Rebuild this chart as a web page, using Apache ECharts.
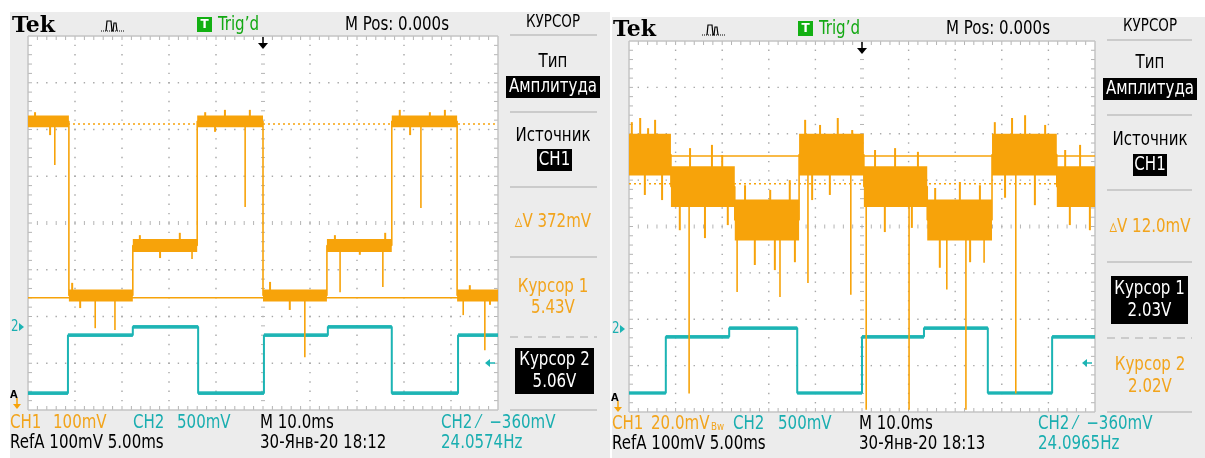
<!DOCTYPE html>
<html><head><meta charset="utf-8">
<script src="https://cdn.jsdelivr.net/npm/echarts@6/dist/echarts.min.js"></script>
<style>html,body{margin:0;padding:0;background:#fff}
#wrap{position:relative;width:1205px;height:458px}
.pn{position:absolute;background:#ececec}
#c{position:absolute;left:0;top:0;width:1205px;height:458px}</style>
</head><body><div id="wrap"><div class="pn" style="left:10px;top:12px;width:600px;height:446px"></div>
<div class="pn" style="left:612px;top:17px;width:593px;height:441px"></div><div id="c"></div></div><script>
// ===== DATA (time in ms, amplitude in screen divisions) =====
// Left capture 30-Янв-20 18:12
const L_ch1Start = [-50, -41.3, -27.7, -14.0, 0, 13.6, 27.4, 41.3];
const L_ch1End   = [-41.3, -27.7, -14.0, 0, 13.6, 27.4, 41.3, 50];
const L_ch1Lo    = [2.05, -1.68, -0.62, 2.05, -1.68, -0.62, 2.05, -1.68];
const L_ch1Hi    = [2.30, -1.42, -0.34, 2.30, -1.42, -0.34, 2.30, -1.42];
const L_ch1SpikeT   = [-44.3, -3.8, 33.6, 16.4, 25.5, 8.9, -35.7, -31.5, 42.6, 47.2, -15.1];
const L_ch1SpikeTip = [1.24, 0.34, 0.32, -1.48, -1.37, -2.87, -2.25, -2.29, -1.97, -2.72, -0.77];
const L_ch1NoiseT   = [-48.5, -45.3, -12.3, -8.1, -2.8, -10.2, 29.1, 35.5, 38.7, 31.3, -38.9, -40.6, 1.5, 5.7, 44.0, 48.3, -26.2, -21.9, -17.7, 15.3, 20.6, 26.0];
const L_ch1NoiseTip = [2.37, 1.88, 2.37, 2.42, 2.42, 1.95, 2.42, 2.37, 2.42, 1.88, -1.82, -1.28, -1.26, -1.86, -1.33, -1.75, -0.26, -0.75, -0.21, -0.26, -0.68, -0.21];
const L_ch2Start = [-50, -41.5, -27.7, -13.8, 0.2, 13.8, 27.4, 41.5];
const L_ch2End   = [-41.5, -27.7, -13.8, 0.2, 13.8, 27.4, 41.5, 50];
const L_ch2Level = [-3.64, -2.40, -2.22, -3.64, -2.40, -2.22, -3.64, -2.40];
const L_cursors  = [2.12, -1.60];   // Курсор 1 (dotted), Курсор 2 (solid)

// Right capture 30-Янв-20 18:13
const R_ch1Start = [-50, -41.0, -27.3, -13.5, 0.4, 14.0, 27.9, 41.8];
const R_ch1End   = [-41.0, -27.3, -13.5, 0.4, 14.0, 27.9, 41.8, 50];
const R_ch1Lo    = [1.10, 0.42, -0.30, 1.10, 0.42, -0.30, 1.10, 0.42];
const R_ch1Hi    = [2.00, 1.30, 0.58, 2.00, 1.30, 0.58, 2.00, 1.30];
const R_ch1SpikeT   = [-37.1, 0.9, 10.1, 22.3, 33.0, -26.8, -17.6, -11.6, -2.4, 18.2, 26.2];
const R_ch1SpikeTip = [-3.60, -3.95, -3.95, -3.95, -3.60, -1.41, -1.52, -1.22, -1.47, -1.36, -0.78];
const R_ch1NoiseT   = [-49.4, -47.6, -45.9, -44.4, -46.6, -42.9, -36.9, -32.2, -30.0, -39.1, -33.7, -28.8,
                       -25.1, -19.7, -15.5, -23.0, -18.7, -14.4, -12.2, -9.0, -5.2, -2.1, -10.7, -6.9,
                       2.8, 7.1, 12.0, 4.9, 10.7, 15.7, 21.0, 25.3, 16.7, 23.2,
                       28.5, 32.2, 35.0, 39.3, 30.7, 37.1, 43.6, 46.8, 44.6, 48.9];
const R_ch1NoiseTip = [2.25, 2.34, 2.12, 2.30, 0.68, 0.57, 1.69, 1.76, 1.54, -0.08, -0.25, 0.03,
                       0.89, 0.79, 1.00, -0.83, -0.94, -0.77, 2.30, 2.19, 2.34, 2.08, 0.57, 0.68,
                       1.65, 1.69, 1.61, -0.12, -0.03, 0.83, 0.96, 0.89, -0.89, -0.77,
                       2.25, 2.34, 2.40, 2.19, 0.62, 0.46, 1.65, 1.76, 0.03, -0.08];
const R_ch2Start = [-50, -42.1, -28.5, -13.9, 0, 13.3, 27.0, 40.8];
const R_ch2End   = [-42.1, -28.5, -13.9, 0, 13.3, 27.0, 40.8, 50];
const R_ch2Level = [-3.59, -2.38, -2.19, -3.59, -2.38, -2.19, -3.59, -2.38];
const R_cursors  = [1.52, 0.92];    // Курсор 1 (solid), Курсор 2 (dotted)

// ===== STYLE =====
const ORANGE = '#f7a30a', CYAN = '#1cb4b4', TXT_OR = '#f2a41c', TXT_CY = '#1aaeb0';
const DOT = '#a6a6a6';
const FONT = "'DejaVu Sans Condensed','Liberation Sans Narrow',sans-serif";

function levelAt(starts, ends, lo, hi, t){
  for (let i=0;i<starts.length;i++) if (t>=starts[i] && t<=ends[i]) return (lo[i]+hi[i])/2;
  return 0;
}
function traceFrom(starts, ends, levels){
  const d=[]; for(let i=0;i<starts.length;i++){ d.push([starts[i],levels[i]]); d.push([ends[i],levels[i]]); } return d;
}
function gratRender(params, api){
  const ch=[];
  const p0=api.coord([-50,4]), p1=api.coord([50,-4]);
  const x0=p0[0], y0=p0[1], x1=p1[0], y1=p1[1];
  const tick=4;
  const dot=(x,y)=>ch.push({type:'rect',shape:{x:x-0.7,y:y-0.7,width:1.4,height:1.4},style:{fill:DOT}});
  const ln=(a,b,c,d)=>ch.push({type:'line',shape:{x1:a,y1:b,x2:c,y2:d},style:{stroke:'#b4b4b4',lineWidth:1}});
  for(let i=-4;i<=4;i++){ if(i===0) continue; const x=api.coord([i*10,0])[0];
    for(let k=1;k<40;k++){ dot(x, api.coord([0,-4+k*0.2])[1]); } }
  for(let j=-3;j<=3;j++){ if(j===0) continue; const y=api.coord([0,j])[1];
    for(let k=1;k<50;k++){ dot(api.coord([-50+k*2,0])[0], y); } }
  const xc=api.coord([0,0])[0], yc=api.coord([0,0])[1];
  for(let k=1;k<40;k++){ const y=api.coord([0,-4+k*0.2])[1];
    ln(xc-2,y,xc+2,y); ln(x0,y,x0+tick,y); ln(x1-tick,y,x1,y); }
  for(let k=1;k<50;k++){ const x=api.coord([-50+k*2,0])[0];
    ln(x,yc-2,x,yc+2); ln(x,y0,x,y0+tick); ln(x,y1-tick,x,y1); }
  ch.push({type:'rect',shape:{x:x0,y:y0,width:x1-x0,height:y1-y0},style:{fill:null,stroke:'#c4c4c4',lineWidth:1}});
  return {type:'group',children:ch};
}
function bandRender(color, op){
  return function(params, api){
    const a=api.coord([api.value(0),api.value(3)]), b=api.coord([api.value(1),api.value(2)]);
    return {type:'rect',shape:{x:a[0],y:a[1],width:b[0]-a[0],height:b[1]-a[1]},style:{fill:color,opacity:op}};
  };
}
function spikeRender(color, w){
  return function(params, api){
    const a=api.coord([api.value(0),api.value(1)]), b=api.coord([api.value(0),api.value(2)]);
    return {type:'line',shape:{x1:a[0],y1:a[1],x2:b[0],y2:b[1]},style:{stroke:color,lineWidth:w}};
  };
}
function scopeSeries(gi, s){
  const ch1Levels = s.ch1Lo.map((v,i)=>(v+s.ch1Hi[i])/2);
  const bands = s.ch1Start.map((v,i)=>[v, s.ch1End[i], s.ch1Lo[i], s.ch1Hi[i]]);
  const lvl = t => levelAt(s.ch1Start,s.ch1End,s.ch1Lo,s.ch1Hi,t);
  const spikes = s.spikeT.map((t,i)=>[t, lvl(t), s.spikeTip[i]]);
  const noise = s.noiseT.map((t,i)=>[t, lvl(t), s.noiseTip[i]]);
  const ch2 = traceFrom(s.ch2Start, s.ch2End, s.ch2Level);
  const ch2bands = s.ch2Start.map((v,i)=>[v, s.ch2End[i], s.ch2Level[i]-0.04, s.ch2Level[i]+0.04]);
  const common = {xAxisIndex:gi, yAxisIndex:gi, silent:true};
  return [
    Object.assign({type:'custom', renderItem:gratRender, data:[[0,0]], z:1}, common),
    Object.assign({type:'line', data:[[-50,s.cursors[0]],[50,s.cursors[0]]], symbol:'none', z:2,
      lineStyle:{color:ORANGE,width:1.5,type: s.dottedFirst?[2,3]:'solid'}}, common),
    Object.assign({type:'line', data:[[-50,s.cursors[1]],[50,s.cursors[1]]], symbol:'none', z:2,
      lineStyle:{color:ORANGE,width:1.5,type: s.dottedFirst?'solid':[2,3]}}, common),
    Object.assign({type:'line', data:ch2, symbol:'none', z:3, lineStyle:{color:CYAN,width:2}}, common),
    Object.assign({type:'custom', renderItem:bandRender(CYAN,0.9), data:ch2bands, z:3}, common),
    Object.assign({type:'line', data:traceFrom(s.ch1Start,s.ch1End,ch1Levels), symbol:'none', z:4, lineStyle:{color:ORANGE,width:1.6}}, common),
    Object.assign({type:'custom', renderItem:spikeRender(ORANGE,1.6), data:spikes, z:4}, common),
    Object.assign({type:'custom', renderItem:spikeRender(ORANGE,2), data:noise, z:4}, common),
    Object.assign({type:'custom', renderItem:bandRender(ORANGE,1), data:bands, z:5}, common)
  ];
}

const L = {ch1Start:L_ch1Start, ch1End:L_ch1End, ch1Lo:L_ch1Lo, ch1Hi:L_ch1Hi, spikeT:L_ch1SpikeT, spikeTip:L_ch1SpikeTip,
  noiseT:L_ch1NoiseT, noiseTip:L_ch1NoiseTip,
  ch2Start:L_ch2Start, ch2End:L_ch2End, ch2Level:L_ch2Level, cursors:L_cursors, dottedFirst:true};
const R = {ch1Start:R_ch1Start, ch1End:R_ch1End, ch1Lo:R_ch1Lo, ch1Hi:R_ch1Hi, spikeT:R_ch1SpikeT, spikeTip:R_ch1SpikeTip,
  noiseT:R_ch1NoiseT, noiseTip:R_ch1NoiseTip,
  ch2Start:R_ch2Start, ch2End:R_ch2End, ch2Level:R_ch2Level, cursors:R_cursors, dottedFirst:false};

// ===== graphic helpers =====
const SX = 0.88;
function T(x,y,text,color,size,align){
  return {type:'text',x:x,y:y,scaleX:SX,silent:true,z:50,style:{text:text,fill:color||'#000',font:(size||19)+'px '+FONT,
    textAlign:align||'left',textVerticalAlign:'middle'}};
}
function Rc(x,y,w,h,fill){ return {type:'rect',shape:{x:x,y:y,width:w,height:h},style:{fill:fill},silent:true,z:40}; }
function Ln(x1,y1,x2,y2,color,dash){ return {type:'line',shape:{x1:x1,y1:y1,x2:x2,y2:y2},style:{stroke:color||'#c0c0c0',lineWidth:1.5,lineDash:dash||null},silent:true,z:45}; }
function Tri(pts,color){ return {type:'polygon',silent:true,z:50,shape:{points:pts},style:{fill:color}}; }
function header(dx,dy){
  return [
    {type:'text',x:12+dx,y:26+dy,silent:true,z:50,style:{text:'Tek',fill:'#000',font:"bold 22px 'DejaVu Serif','Liberation Serif',serif",textVerticalAlign:'middle'}},
    {type:'polyline',silent:true,z:50,shape:{points:[[101+dx,31+dy],[125+dx,31+dy]]},style:{stroke:'#000',lineWidth:1,fill:null,lineDash:[1,1]}},
    {type:'polyline',silent:true,z:50,shape:{points:[[106+dx,31+dy],[107+dx,21+dy],[111+dx,21+dy],[112+dx,31+dy],[113+dx,31+dy],[114+dx,23+dy],[116+dx,23+dy],[117+dx,31+dy]]},style:{stroke:'#000',lineWidth:1.2,fill:null}},
    Rc(197+dx,17+dy,15,15,'#12b012'),
    {type:'text',x:204.5+dx,y:25+dy,silent:true,z:50,style:{text:'T',fill:'#fff',font:"bold 12px 'DejaVu Sans',sans-serif",textAlign:'center',textVerticalAlign:'middle'}},
    T(218+dx,25+dy,"Trig’d",'#12a812'),
    T(345+dx,25+dy,'M Pos: 0.000s','#000'),
  ];
}
function arrowDown(x,y){ return [ Ln(x,y,x,y+7,'#000'), Tri([[x-5,y+6],[x+5,y+6],[x,y+12]],'#000') ]; }
function markA(x,y){ return [
  {type:'text',x:x,y:y,silent:true,z:50,style:{text:'A',fill:'#000',font:"bold 11px 'DejaVu Sans Condensed',sans-serif",textVerticalAlign:'middle'}},
  Ln(x+7,y+3,x+7,y+11,ORANGE), Tri([[x+3,y+9],[x+11,y+9],[x+7,y+14]],ORANGE) ]; }

const graphics = [
  ...header(0,0), ...header(601,4),
  ...arrowDown(263,37), ...arrowDown(862,42),
  // left side panel
  T(553,23,'КУРСОР','#000',17,'center'),
  Ln(510,35,597,35),
  T(553,62,'Тип','#000',19,'center'),
  Rc(506,76,94,22,'#000'), T(553,87,'Амплитуда','#fff',19,'center'),
  Ln(510,112,597,112),
  T(553,136,'Источник','#000',19,'center'),
  Rc(537,149,35,22,'#000'), T(554.5,160,'CH1','#fff',19,'center'),
  Ln(510,187,597,187),
  T(553,222,'▵V 372mV',TXT_OR,19,'center'),
  Ln(510,257,597,257),
  T(553,287,'Курсор 1',TXT_OR,19,'center'),
  T(553,308,'5.43V',TXT_OR,19,'center'),
  Ln(510,337,597,337,'#c0c0c0',[8,6]),
  Rc(515,348,79,46,'#000'),
  T(554.5,360,'Курсор 2','#fff',19,'center'),
  T(554.5,382,'5.06V','#fff',19,'center'),
  Ln(510,410,597,410),
  // right side panel
  T(1150,27,'КУРСОР','#000',17,'center'),
  Ln(1107,40,1192,40),
  T(1150,63,'Тип','#000',19,'center'),
  Rc(1103,78,94,22,'#000'), T(1150,89,'Амплитуда','#fff',19,'center'),
  Ln(1107,115,1192,115),
  T(1150,140,'Источник','#000',19,'center'),
  Rc(1133,154,34,22,'#000'), T(1150,165,'CH1','#fff',19,'center'),
  Ln(1107,190,1192,190),
  T(1150,227,'▵V 12.0mV',TXT_OR,19,'center'),
  Ln(1107,262,1192,262),
  Rc(1111,276,77,48,'#000'),
  T(1149.5,289,'Курсор 1','#fff',19,'center'),
  T(1149.5,311,'2.03V','#fff',19,'center'),
  Ln(1107,338,1192,338,'#c0c0c0',[8,6]),
  T(1150,365,'Курсор 2',TXT_OR,19,'center'),
  T(1150,387,'2.02V',TXT_OR,19,'center'),
  Ln(1107,412,1192,412),
  // markers left
  T(11,327,'2',TXT_CY,15), Tri([[19,323],[19,331],[24,327]],CYAN),
  ...markA(10,395),
  Tri([[485,363],[490,359],[490,367]],CYAN), Ln(488,363,495,363,CYAN),
  // markers right
  T(612,329,'2',TXT_CY,15), Tri([[620,325],[620,333],[625,329]],CYAN),
  ...markA(611,398),
  Tri([[1082,363],[1087,359],[1087,367]],CYAN), Ln(1085,363,1092,363,CYAN),
  // bottom rows left
  T(10,423,'CH1',TXT_OR), T(53,423,'100mV',TXT_OR),
  T(133,423,'CH2',TXT_CY), T(177,423,'500mV',TXT_CY),
  T(260,423,'M 10.0ms','#000'),
  T(441,423,'CH2 ⁄  −360mV',TXT_CY),
  T(10,443,'RefA 100mV 5.00ms','#000'),
  T(260,443,'30-Янв-20 18:12','#000'),
  T(441,443,'24.0574Hz',TXT_CY),
  // bottom rows right
  T(612,424,'CH1',TXT_OR), T(651,424,'20.0mV',TXT_OR), T(711,427,'Bw',TXT_OR,11),
  T(733,424,'CH2',TXT_CY), T(778,424,'500mV',TXT_CY),
  T(859,424,'M 10.0ms','#000'),
  T(1038,424,'CH2 ⁄  −360mV',TXT_CY),
  T(612,444,'RefA 100mV 5.00ms','#000'),
  T(859,444,'30-Янв-20 18:13','#000'),
  T(1038,444,'24.0965Hz',TXT_CY),
];

const axX = (gi)=>({type:'value',gridIndex:gi,min:-50,max:50,show:false});
const axY = (gi)=>({type:'value',gridIndex:gi,min:-4,max:4,show:false});
const chart = echarts.init(document.getElementById('c'), null, {renderer:'canvas'});
chart.setOption({
  animation:false,
  backgroundColor:'transparent',
  grid:[
    {left:28, top:36, width:470, height:374, show:true, backgroundColor:'#fff', borderColor:'#c4c4c4', borderWidth:1},
    {left:629, top:41, width:466, height:371, show:true, backgroundColor:'#fff', borderColor:'#c4c4c4', borderWidth:1}
  ],
  xAxis:[axX(0),axX(1)], yAxis:[axY(0),axY(1)],
  series:[...scopeSeries(0,L), ...scopeSeries(1,R)],
  graphic:graphics
});
</script></body></html>
